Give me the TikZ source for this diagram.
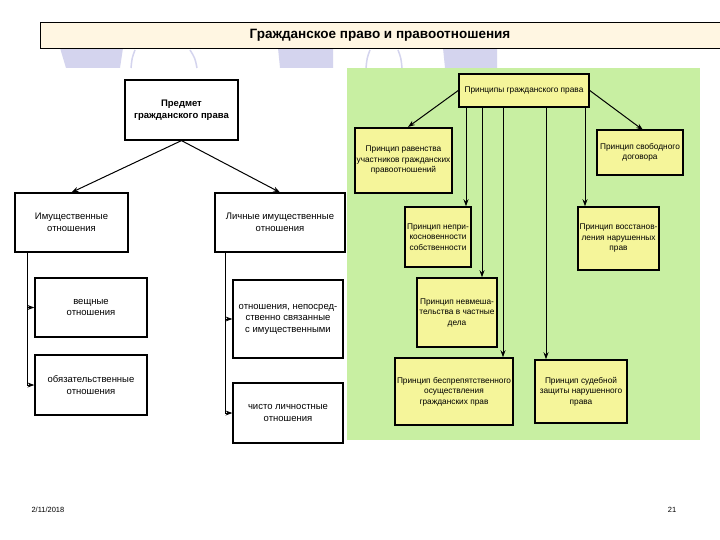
\documentclass[tikz,border=0pt]{standalone}
\usepackage{fontspec}
\setmainfont{Liberation Sans}
\usetikzlibrary{arrows.meta}
\definecolor{panel}{HTML}{C8EFA2}
\definecolor{ybox}{HTML}{F5F59A}
\definecolor{lav}{HTML}{D4D4EE}
\definecolor{titlebg}{HTML}{FFF6E2}
\tikzset{
 lb/.style={draw=black,line width=1.2pt,fill=white,align=center,inner sep=1pt,font=\fontsize{9.5}{11.5}\selectfont},
 yb/.style={draw=black,line width=1.5pt,fill=ybox,align=center,inner sep=1pt,font=\fontsize{8.3}{10.5}\selectfont},
 arr/.style={-{Stealth[length=7pt,width=5pt]},line width=1pt},
}
\begin{document}
\begin{tikzpicture}[x=1pt,y=-1pt]
\useasboundingbox (0,0) rectangle (720,540);
\fill[white] (0,0) rectangle (720,540);
% decorative lavender shapes
\fill[lav] (60,48) -- (123,48) -- (120,68) -- (66,68) -- cycle;
\draw[lav,line width=1.5pt] (135,50) .. controls (132,58) .. (131,68);
\draw[lav,line width=1.5pt] (190,50) .. controls (195,58) .. (197,68);
\fill[lav] (278,48) -- (333,48) -- (333,68) -- (280,68) -- cycle;
\draw[lav,line width=1.5pt] (370,50) .. controls (367,58) .. (366,68);
\draw[lav,line width=1.5pt] (398,50) .. controls (401,58) .. (402,68);
\fill[lav] (443,48) -- (497,48) -- (497,68) -- (445,68) -- cycle;
% title
\fill[titlebg] (40,22) rectangle (720,48);
\draw[line width=0.8pt] (720,22) -- (40,22) -- (40,48) -- (720,48);
\node[font=\bfseries\fontsize{13.5}{15}\selectfont] (title) at (380,35) {Гражданское право и правоотношения};
% green panel
\fill[panel] (347,68) rectangle (700,440);
% left tree
\node[lb,font=\bfseries\fontsize{9.5}{11.5}\selectfont,minimum width=113,minimum height=60] (pr) at (181.5,110) {Предмет\\гражданского права};
\node[lb,minimum width=113,minimum height=59] (im) at (71.5,222.5) {Имущественные\\отношения};
\node[lb,minimum width=130,minimum height=59] (li) at (280,222.5) {Личные имущественные\\отношения};
\node[lb,minimum width=112,minimum height=59] (ve) at (91,307.5) {вещные\\отношения};
\node[lb,minimum width=112,minimum height=60] (ob) at (91,385) {обязательственные\\отношения};
\node[lb,minimum width=110,minimum height=78] (ot) at (288,319) {отношения, непосред-\\ственно связанные\\с имущественными};
\node[lb,minimum width=110,minimum height=60] (ch) at (288,413) {чисто личностные\\отношения};
\draw[arr] (pr.south) -- (im.north);
\draw[arr] (pr.south) -- (li.north);
\draw[line width=0.8pt] (im.south -| 27,0) -- (ob.west -| 27,0);
\draw[arr] (ve.west -| 27,0) -- (ve.west);
\draw[arr] (ob.west -| 27,0) -- (ob.west);
\draw[line width=0.8pt] (li.south -| 225,0) -- (ch.west -| 225,0);
\draw[arr] (ot.west -| 225,0) -- (ot.west);
\draw[arr] (ch.west -| 225,0) -- (ch.west);
% right panel
\node[yb,minimum width=130,minimum height=33] (pp) at (524,90.5) {Принципы гражданского права};
\node[yb,minimum width=97,minimum height=65] (r1) at (403.5,160.5) {Принцип равенства\\участников гражданских\\правоотношений};
\node[yb,minimum width=86,minimum height=45] (r2) at (640,152.5) {Принцип свободного\\договора};
\node[yb,minimum width=66,minimum height=60] (r3) at (438,237) {Принцип непри-\\косновенности\\собственности};
\node[yb,minimum width=81,minimum height=63] (r4) at (618.5,238.5) {Принцип восстанов-\\ления нарушенных\\прав};
\node[yb,minimum width=80,minimum height=69] (r5) at (457,312.5) {Принцип невмеша-\\тельства в частные\\дела};
\node[yb,minimum width=118,minimum height=67] (r6) at (454,391.5) {Принцип беспрепятственного\\осуществления\\гражданских прав};
\node[yb,minimum width=92,minimum height=63] (r7) at (581,391.5) {Принцип судебной\\защиты нарушенного\\права};
\draw[arr] (pp.west) -- (408,127);
\draw[arr] (pp.east) -- (643,130);
\draw[arr] (pp.south -| 466,0) -- (r3.north -| 466,0);
\draw[arr] (pp.south -| 482,0) -- (r5.north -| 482,0);
\draw[arr] (pp.south -| 503,0) -- (r6.north -| 503,0);
\draw[arr] (pp.south -| 546,0) -- (r7.north -| 546,0);
\draw[arr] (pp.south -| 585,0) -- (r4.north -| 585,0);
% footer
\node[font=\fontsize{7.5}{9}\selectfont,anchor=west] (date) at (28,510) {2/11/2018};
\node[font=\fontsize{7.5}{9}\selectfont] (num) at (672,510) {21};
\end{tikzpicture}
\end{document}
